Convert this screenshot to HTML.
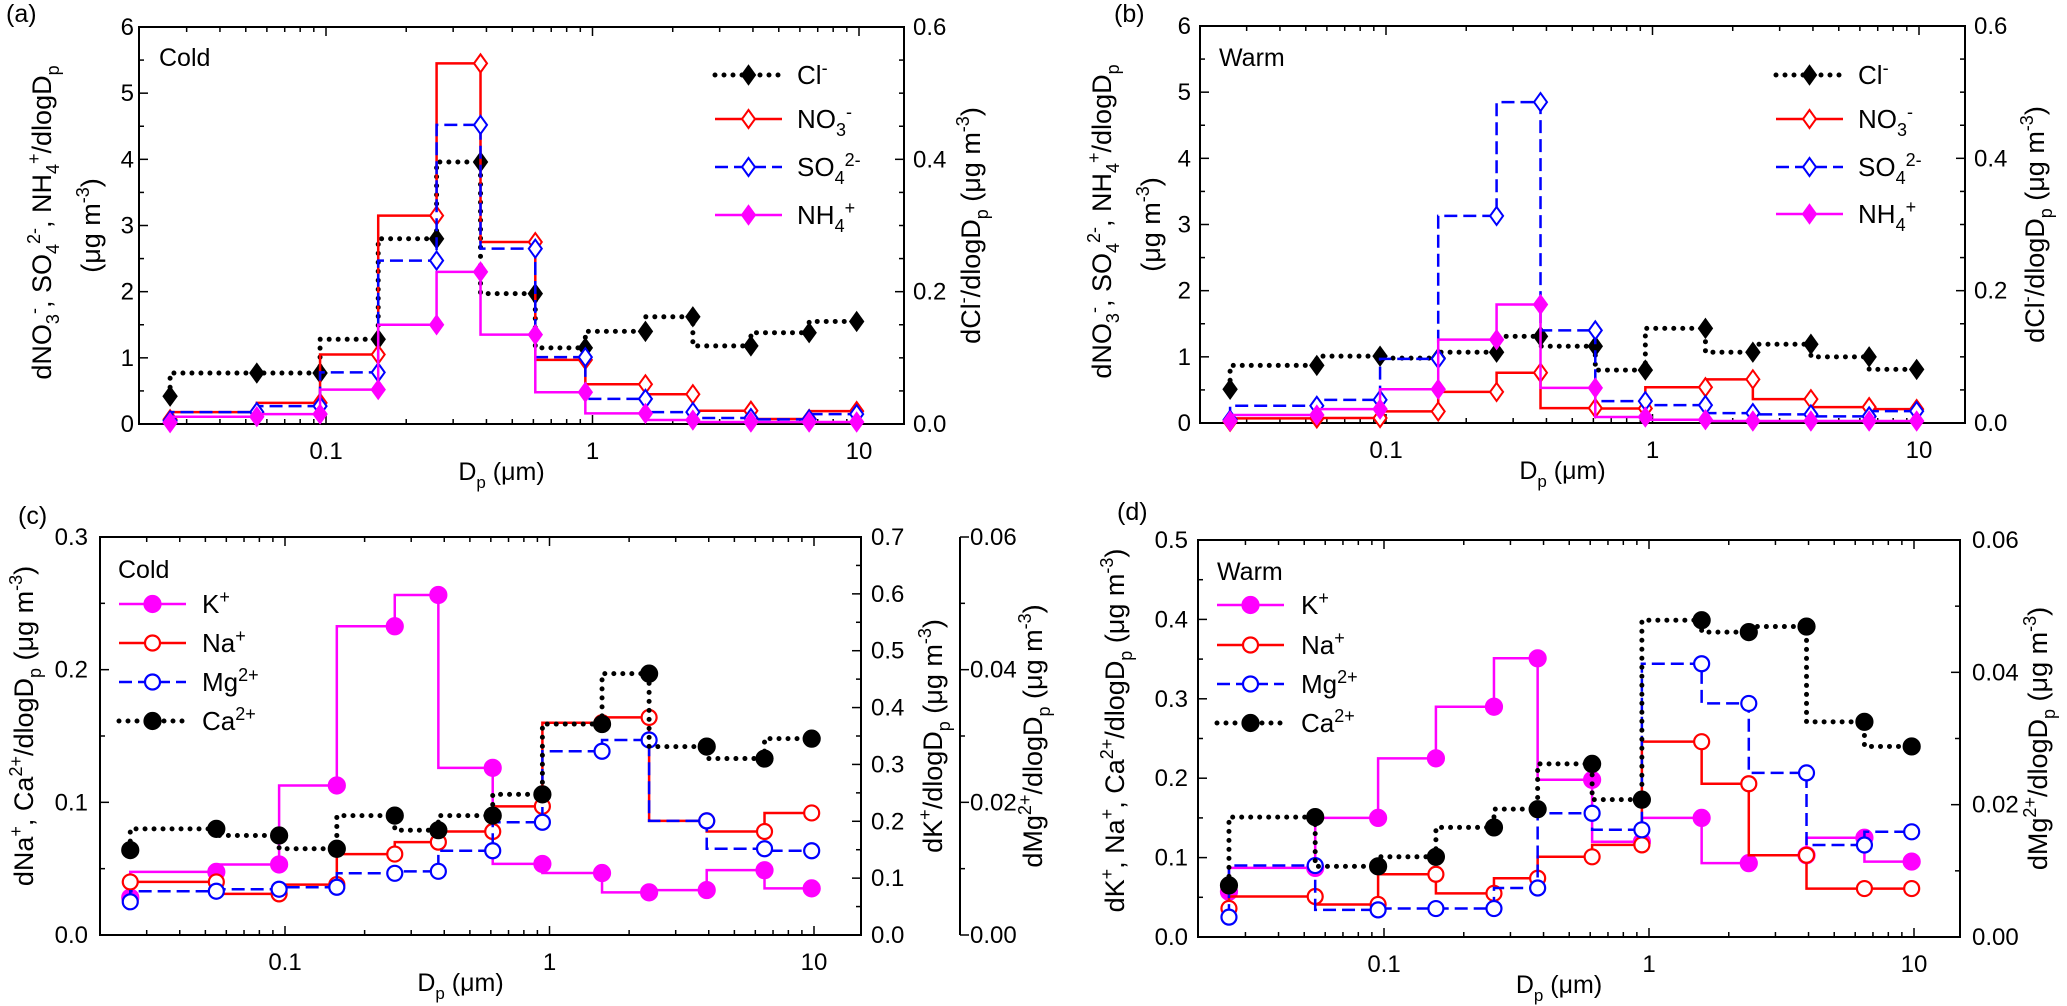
<!DOCTYPE html>
<html><head><meta charset="utf-8">
<style>
html,body{margin:0;padding:0;background:#fff;}
svg{display:block;font-family:"Liberation Sans",Arial,sans-serif;}
</style></head>
<body>
<svg id="fig" width="2067" height="1006" viewBox="0 0 2067 1006" xmlns="http://www.w3.org/2000/svg"></svg>
<script>
// ---- data ----
const sizes = [0.026,0.055,0.095,0.157,0.26,0.38,0.61,0.94,1.58,2.38,3.93,6.5,9.8];
const xTickVals = [0.1,1,10];
const xTickLabels = ["0.1","1","10"];
// panel a (cold)
const aCl  = [0.042,0.077,0.077,0.128,0.28,0.396,0.197,0.115,0.14,0.162,0.118,0.138,0.155];
const aNO3 = [0.07,0.18,0.32,1.05,3.15,5.45,2.75,0.97,0.6,0.45,0.2,0.075,0.195];
const aSO4 = [0.05,0.18,0.27,0.78,2.47,4.52,2.65,1.01,0.38,0.18,0.09,0.07,0.15];
const aNH4 = [0.02,0.11,0.15,0.52,1.5,2.3,1.35,0.48,0.16,0.06,0.03,0.03,0.03];
// panel b (warm)
const bCl  = [0.051,0.087,0.101,0.098,0.107,0.131,0.116,0.08,0.143,0.107,0.119,0.1,0.081];
const bNO3 = [0.02,0.07,0.075,0.175,0.47,0.76,0.225,0.22,0.54,0.66,0.36,0.24,0.21];
const bSO4 = [0.05,0.26,0.35,0.97,3.13,4.85,1.4,0.33,0.27,0.15,0.13,0.1,0.18];
const bNH4 = [0.03,0.12,0.21,0.51,1.26,1.79,0.53,0.09,0.05,0.03,0.03,0.03,0.03];
// panel c (cold)
const cK  = [0.066,0.111,0.124,0.263,0.543,0.598,0.294,0.125,0.109,0.075,0.079,0.114,0.082];
const cNa = [0.040,0.040,0.031,0.038,0.061,0.070,0.078,0.097,0.160,0.164,0.086,0.078,0.092];
const cMg = [0.0050,0.0066,0.0069,0.0072,0.0093,0.0096,0.0127,0.0170,0.0277,0.0294,0.0172,0.0130,0.0127];
const cCa = [0.064,0.080,0.075,0.065,0.090,0.079,0.090,0.106,0.159,0.197,0.142,0.133,0.148];
// panel d (warm)
const dK  = [0.057,0.087,0.15,0.225,0.29,0.351,0.198,0.12,0.15,0.093,0.103,0.125,0.095];
const dNa = [0.036,0.051,0.041,0.079,0.055,0.074,0.101,0.116,0.246,0.193,0.103,0.061,0.061];
const dMg = [0.0030,0.0108,0.0041,0.0043,0.0043,0.0074,0.0187,0.0162,0.0413,0.0353,0.0248,0.0139,0.0159];
const dCa = [0.065,0.151,0.089,0.101,0.138,0.161,0.218,0.173,0.399,0.384,0.391,0.271,0.240];

const NS = "http://www.w3.org/2000/svg";
const svg = document.getElementById('fig');
function el(tag, attrs, parent){
  const e = document.createElementNS(NS, tag);
  for (const k in attrs) e.setAttribute(k, attrs[k]);
  (parent||svg).appendChild(e);
  return e;
}
function rich(parent, x, y, str, size, anchor, rotate){
  const t = el('text', {'font-size':size, 'text-anchor':anchor||'start', fill:'#000'}, parent);
  if (rotate) t.setAttribute('transform', 'translate('+x+','+y+') rotate(-90)');
  else { t.setAttribute('x', x); t.setAttribute('y', y); }
  const re = /([_^])\{([^}]*)\}|([^_^]+)/g;
  let m, shift = 0;
  const sub = Math.round(size*0.3), sup = Math.round(size*0.4);
  while ((m = re.exec(str)) !== null){
    const ts = el('tspan', {}, t);
    let target = 0;
    if (m[1] === '_'){ target = sub; ts.setAttribute('font-size', Math.round(size*0.68)); ts.textContent = m[2]; }
    else if (m[1] === '^'){ target = -sup; ts.setAttribute('font-size', Math.round(size*0.68)); ts.textContent = m[2]; }
    else { target = 0; ts.textContent = m[3]; }
    ts.setAttribute('dy', target - shift);
    shift = target;
  }
  return t;
}
const styles = {
  black:{stroke:'#000', dash:'0 9', width:5, cap:'round'},
  red:{stroke:'#ff0000', dash:'', width:2.5, cap:'butt'},
  blue:{stroke:'#0000ff', dash:'13 6', width:2.5, cap:'butt'},
  mag:{stroke:'#ff00ff', dash:'', width:2.5, cap:'butt'}
};
function marker(g, type, color, x, y){
  let m;
  if (type==='dfill' || type==='dopen'){
    m = el('path', {d:'M'+x+','+(y-9)+' L'+(x+6.5)+','+y+' L'+x+','+(y+9)+' L'+(x-6.5)+','+y+' Z',
      fill: type==='dfill'?color:'#fff', stroke:color, 'stroke-width':2}, g);
  } else {
    m = el('circle', {cx:x, cy:y, r:type==='cfill'?8:7.5, fill: type==='cfill'?color:'#fff', stroke:color, 'stroke-width':2.2}, g);
  }
  return m;
}
function makePanel(cfg){
  const g = el('g', {});
  
  
  const xs = v => cfg.p0 + (Math.log10(v)+1)*cfg.dec;
  const ys = (v, max) => cfg.B - v/max*(cfg.B-cfg.T);
  const frame = el('rect', {x:cfg.L, y:cfg.T, width:cfg.R-cfg.L, height:cfg.B-cfg.T, fill:'none', stroke:'#000', 'stroke-width':2}, g);
  
  
  const xg = el('g', {}, g);
  
  
  for (let k=-2;k<=1;k++){
    for (let d=1; d<=9; d++){
      const v = d*Math.pow(10,k);
      const px = xs(v);
      if (px < cfg.L+1 || px > cfg.R-1) continue;
      const len = d===1?9:5;
      el('line', {x1:px, x2:px, y1:cfg.B, y2:cfg.B-len, stroke:'#000','stroke-width':1.5}, xg);
      el('line', {x1:px, x2:px, y1:cfg.T, y2:cfg.T+len, stroke:'#000','stroke-width':1.5}, xg);
    }
  }
  xTickVals.forEach((v,i)=>{
    const t = el('text', {x:xs(v), y:cfg.B+35, 'font-size':24, 'text-anchor':'middle'}, xg);
    t.textContent = xTickLabels[i];
    
    
  });
  const xt = rich(xg, (cfg.L+cfg.R)/2 - 20, cfg.B+56, 'D_{p} (\u03bcm)', 25, 'middle');
  
  
  cfg.axes.forEach(ax=>{
    const ag = el('g', {}, g);
    
    
    if (ax.line) el('line', {x1:ax.x, x2:ax.x, y1:cfg.T, y2:cfg.B, stroke:'#000','stroke-width':2}, ag);
    const n = Math.round(ax.max/ax.minor);
    for (let i=0;i<=n;i++){
      const v = i*ax.minor;
      const py = ys(v, ax.max);
      const major = Math.abs(v/ax.major - Math.round(v/ax.major))<1e-6;
      const len = major?9:5;
      el('line', {x1:ax.x, x2:ax.x + ax.dir*len, y1:py, y2:py, stroke:'#000','stroke-width':1.5}, ag);
      if (major){
        const t = el('text', {x: ax.labelX, y: py+8, 'font-size':24, 'text-anchor': ax.anchor}, ag);
        t.textContent = v.toFixed(ax.dec);
        
        
      }
    }
    ax.titles.forEach(tt=>{
      const t = rich(ag, tt.x, (cfg.T+cfg.B)/2 + (tt.dy||0), tt.text, 27, 'middle', true);
      
      
    });
  });
  cfg.series.forEach(s=>{
    const sg = el('g', {}, g);
    
    
    const st = styles[s.style];
    let d = 'M'+xs(sizes[0])+','+ys(s.vals[0], s.max);
    for (let i=1;i<sizes.length;i++){
      d += ' L'+xs(sizes[i-1])+','+ys(s.vals[i], s.max)+' L'+xs(sizes[i])+','+ys(s.vals[i], s.max);
    }
    const p = el('path', {d:d, fill:'none', stroke:st.stroke, 'stroke-width':st.width, 'stroke-linecap':st.cap, 'stroke-linejoin':'miter'}, sg);
    if (st.dash) p.setAttribute('stroke-dasharray', st.dash);
    
    
    s.vals.forEach((v,i)=>{
      const m = marker(sg, s.marker, s.style==='black'?'#000':st.stroke, xs(sizes[i]), ys(v, s.max));
      
      
    });
  });
  const lg = el('g', {}, g);
  
  
  cfg.series.forEach((s,i)=>{
    const y = cfg.leg.y[i];
    const st = styles[s.style];
    const e = el('g', {}, lg);
    
    
    const ln = el('line', {x1:cfg.leg.x1, x2:cfg.leg.x2, y1:y, y2:y, stroke:st.stroke, 'stroke-width':st.width, 'stroke-linecap':st.cap}, e);
    if (st.dash) ln.setAttribute('stroke-dasharray', st.dash);
    marker(e, s.marker, s.style==='black'?'#000':st.stroke, (cfg.leg.x1+cfg.leg.x2)/2, y);
    rich(e, cfg.leg.tx, y+9, s.label, 26, 'start');
  });
  const sl = el('text', {x:cfg.season.x, y:cfg.season.y, 'font-size':25}, g);
  sl.textContent = cfg.season.text;
  
  
  const pl = el('text', {x:cfg.plab.x, y:cfg.plab.y, 'font-size':25}, g);
  pl.textContent = cfg.plab.text;
  
  
}
makePanel({name:'panel-a', L:139, R:904, T:27, B:424, p0:326, dec:266.5,
  axes:[
    {name:'left-y-axis', x:139, dir:1, max:6, major:1, minor:0.5, dec:0, labelX:134, anchor:'end',
     titles:[{x:51, dy:-3, text:'dNO_{3}^{-}, SO_{4}^{2-}, NH_{4}^{+}/dlogD_{p}'},{x:100, text:'(\u03bcg m^{-3})'}]},
    {name:'right-y-axis', x:904, dir:-1, max:0.6, major:0.2, minor:0.05, dec:1, labelX:913, anchor:'start',
     titles:[{x:980, text:'dCl^{-}/dlogD_{p} (\u03bcg m^{-3})'}]}
  ],
  series:[
    {key:'cl', label:'Cl^{-}', vals:aCl, max:0.6, style:'black', marker:'dfill'},
    {key:'no3', label:'NO_{3}^{-}', vals:aNO3, max:6, style:'red', marker:'dopen'},
    {key:'so4', label:'SO_{4}^{2-}', vals:aSO4, max:6, style:'blue', marker:'dopen'},
    {key:'nh4', label:'NH_{4}^{+}', vals:aNH4, max:6, style:'mag', marker:'dfill'}],
  leg:{x1:715, x2:782, tx:797, y:[75,119,167,215]},
  season:{x:159, y:66, text:'Cold'}, plab:{x:6, y:22, text:'(a)'}});
makePanel({name:'panel-b', L:1200, R:1965, T:26, B:423, p0:1386, dec:266.5,
  axes:[
    {name:'left-y-axis', x:1200, dir:1, max:6, major:1, minor:0.5, dec:0, labelX:1191, anchor:'end',
     titles:[{x:1111, dy:-3, text:'dNO_{3}^{-}, SO_{4}^{2-}, NH_{4}^{+}/dlogD_{p}'},{x:1160, text:'(\u03bcg m^{-3})'}]},
    {name:'right-y-axis', x:1965, dir:-1, max:0.6, major:0.2, minor:0.05, dec:1, labelX:1974, anchor:'start',
     titles:[{x:2044, text:'dCl^{-}/dlogD_{p} (\u03bcg m^{-3})'}]}
  ],
  series:[
    {key:'cl', label:'Cl^{-}', vals:bCl, max:0.6, style:'black', marker:'dfill'},
    {key:'no3', label:'NO_{3}^{-}', vals:bNO3, max:6, style:'red', marker:'dopen'},
    {key:'so4', label:'SO_{4}^{2-}', vals:bSO4, max:6, style:'blue', marker:'dopen'},
    {key:'nh4', label:'NH_{4}^{+}', vals:bNH4, max:6, style:'mag', marker:'dfill'}],
  leg:{x1:1776, x2:1843, tx:1858, y:[75,119,167,214]},
  season:{x:1219, y:66, text:'Warm'}, plab:{x:1114, y:22, text:'(b)'}});
makePanel({name:'panel-c', L:100, R:861, T:537, B:935, p0:285, dec:264.5,
  axes:[
    {name:'left-y-axis', x:100, dir:1, max:0.3, major:0.1, minor:0.05, dec:1, labelX:88, anchor:'end',
     titles:[{x:33, dy:-10, text:'dNa^{+}, Ca^{2+}/dlogD_{p} (\u03bcg m^{-3})'}]},
    {name:'k-y-axis', x:861, dir:-1, max:0.7, major:0.1, minor:0.05, dec:1, labelX:871, anchor:'start',
     titles:[{x:942, text:'dK^{+}/dlogD_{p} (\u03bcg m^{-3})'}]},
    {name:'mg-y-axis', x:960, dir:1, line:true, max:0.06, major:0.02, minor:0.01, dec:2, labelX:970, anchor:'start',
     titles:[{x:1042, text:'dMg^{2+}/dlogD_{p} (\u03bcg m^{-3})'}]}
  ],
  series:[
    {key:'k', label:'K^{+}', vals:cK, max:0.7, style:'mag', marker:'cfill'},
    {key:'na', label:'Na^{+}', vals:cNa, max:0.3, style:'red', marker:'copen'},
    {key:'mg', label:'Mg^{2+}', vals:cMg, max:0.06, style:'blue', marker:'copen'},
    {key:'ca', label:'Ca^{2+}', vals:cCa, max:0.3, style:'black', marker:'cfill'}],
  leg:{x1:119, x2:186, tx:202, y:[604,643,682,721]},
  season:{x:118, y:578, text:'Cold'}, plab:{x:18, y:524, text:'(c)'}});
makePanel({name:'panel-d', L:1198, R:1960, T:540, B:937, p0:1384, dec:265,
  axes:[
    {name:'left-y-axis', x:1198, dir:1, max:0.5, major:0.1, minor:0.05, dec:1, labelX:1188, anchor:'end',
     titles:[{x:1124, dy:-8, text:'dK^{+}, Na^{+}, Ca^{2+}/dlogD_{p} (\u03bcg m^{-3})'}]},
    {name:'right-y-axis', x:1960, dir:-1, max:0.06, major:0.02, minor:0.01, dec:2, labelX:1972, anchor:'start',
     titles:[{x:2047, text:'dMg^{2+}/dlogD_{p} (\u03bcg m^{-3})'}]}
  ],
  series:[
    {key:'k', label:'K^{+}', vals:dK, max:0.5, style:'mag', marker:'cfill'},
    {key:'na', label:'Na^{+}', vals:dNa, max:0.5, style:'red', marker:'copen'},
    {key:'mg', label:'Mg^{2+}', vals:dMg, max:0.06, style:'blue', marker:'copen'},
    {key:'ca', label:'Ca^{2+}', vals:dCa, max:0.5, style:'black', marker:'cfill'}],
  leg:{x1:1217, x2:1284, tx:1301, y:[605,645,684,723]},
  season:{x:1217, y:580, text:'Warm'}, plab:{x:1117, y:520, text:'(d)'}});
</script>
</body></html>
